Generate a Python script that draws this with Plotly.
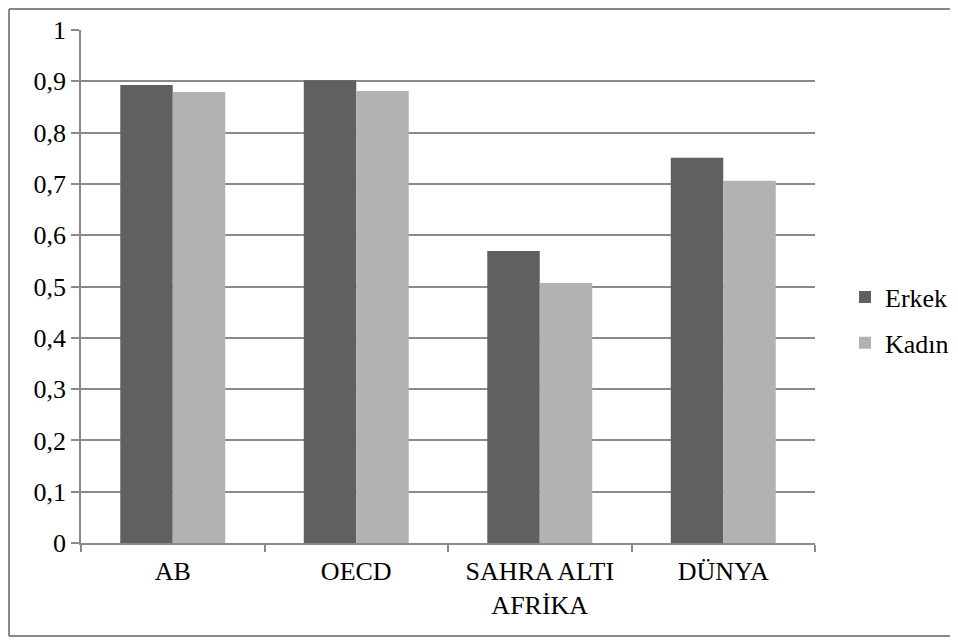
import plotly.graph_objects as go

categories = ["AB", "OECD", "SAHRA ALTI<br>AFRİKA", "DÜNYA"]
erkek = [0.893, 0.902, 0.569, 0.751]
kadin = [0.879, 0.881, 0.507, 0.706]
tick_vals = [0, 0.1, 0.2, 0.3, 0.4, 0.5, 0.6, 0.7, 0.8, 0.9, 1]
tick_text = ["0", "0,1", "0,2", "0,3", "0,4", "0,5", "0,6", "0,7", "0,8", "0,9", "1"]

OFF = 8  # page body margin offset
W, H = 958 - OFF, 641 - OFF
L, T = 81 - OFF, 30 - OFF
R = W - (815 - OFF)
B = H - (543 - OFF)
pw, ph = W - L - R, H - T - B

def px_x(x):
    return (x - OFF - L) / pw

def px_y(y):
    return (H - B - (y - OFF)) / ph

font = dict(family="Liberation Serif, Times New Roman, serif", size=26, color="black")

fig = go.Figure()
fig.add_trace(go.Bar(name="Erkek", x=categories, y=erkek, marker=dict(color="#606060", line=dict(width=0)), legendgroup="a"))
fig.add_trace(go.Bar(name="Kadın", x=categories, y=kadin, marker=dict(color="#b2b2b2", line=dict(width=0)), legendgroup="b"))

border = dict(color="#888888", width=2)
bx0, bx1, by0, by1 = px_x(9), px_x(1100), px_y(636), px_y(9)

fig.update_layout(
    width=W, height=H,
    margin=dict(l=L, r=R, t=T, b=B, autoexpand=False),
    paper_bgcolor="white", plot_bgcolor="white",
    font=font,
    barmode="group", bargap=0.428, bargroupgap=0,
    showlegend=True,
    legend=dict(x=px_x(845), xanchor="left", y=px_y(320), yanchor="middle",
                font=font, tracegroupgap=9, bgcolor="rgba(0,0,0,0)", itemwidth=30),
    xaxis=dict(type="category", showgrid=False, showline=True, linecolor="#8a8a8a", linewidth=1.5,
               ticks="outside", tickson="boundaries", ticklen=7, tickcolor="#8a8a8a", tickwidth=1.5,
               tickfont=font, ticklabelstandoff=4),
    yaxis=dict(range=[0, 1], tickvals=tick_vals, ticktext=tick_text, showgrid=True,
               gridcolor="#8a8a8a", gridwidth=1.5, showline=True, linecolor="#8a8a8a", linewidth=1.5,
               ticks="outside", ticklen=8, tickcolor="#8a8a8a", tickwidth=1.5, tickfont=font,
               zeroline=False),
    shapes=[
        dict(type="line", xref="paper", yref="paper", x0=bx0, x1=bx0, y0=by0, y1=by1, line=border),
        dict(type="line", xref="paper", yref="paper", x0=bx0, x1=bx1, y0=by1, y1=by1, line=border),
        dict(type="line", xref="paper", yref="paper", x0=bx0, x1=bx1, y0=by0, y1=by0, line=border),
    ],
)

fig.write_html("out.html")
